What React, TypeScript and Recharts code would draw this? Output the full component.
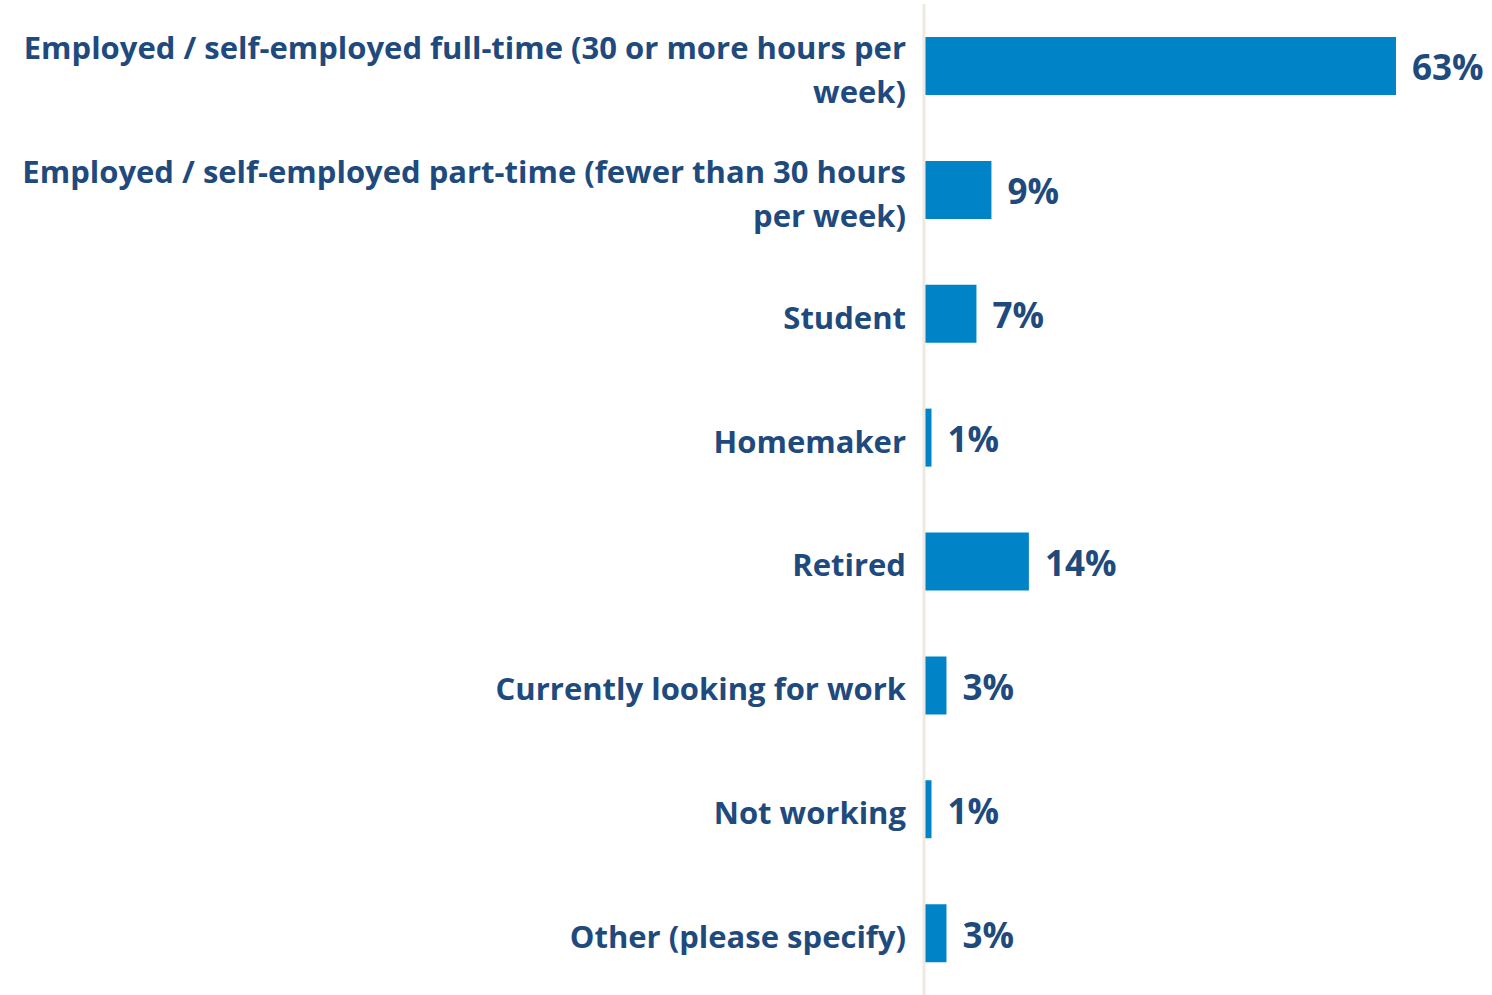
import { BarChart, Bar, XAxis, YAxis, LabelList } from "recharts";

// Employment status, share of respondents (%)
const categories = [
  "Employed / self-employed full-time (30 or more hours per week)",
  "Employed / self-employed part-time (fewer than 30 hours per week)",
  "Student",
  "Homemaker",
  "Retired",
  "Currently looking for work",
  "Not working",
  "Other (please specify)",
];
const shares = [63, 9, 7, 1, 14, 3, 1, 3];

const data = categories.map((name, i) => ({ name, value: shares[i] }));

const TEXT = "#1F4A7E";
const BAR = "#0083C7";
const FONT = "'Open Sans', Lato, sans-serif";

// simple greedy word wrap by character count
const wrap = (s: string, max: number) => {
  const lines: string[] = [];
  let cur = "";
  s.split(" ").forEach((w) => {
    const next = cur ? cur + " " + w : w;
    if (next.length > max && cur) {
      lines.push(cur);
      cur = w;
    } else cur = next;
  });
  if (cur) lines.push(cur);
  return lines;
};

const CategoryTick = (props: any) => {
  const { x, y, payload } = props;
  const lines = wrap(payload.value, 56);
  const lh = 44;
  const top = y - ((lines.length - 1) * lh) / 2 + 3;
  return (
    <text
      x={x}
      y={top}
      textAnchor="end"
      fill={TEXT}
      fontFamily={FONT}
      fontWeight={700}
      fontSize={31}
      dominantBaseline="central"
    >
      {lines.map((l, i) => (
        <tspan key={i} x={x} y={top + i * lh}>
          {l}
        </tspan>
      ))}
    </text>
  );
};

const App = () => {
  return (
    <div style={{ position: "absolute", left: 0, top: 0, background: "#fff" }}>
      <BarChart
        width={1492}
        height={995}
        data={data}
        layout="vertical"
        margin={{ top: 4, right: 96, bottom: 0, left: 0 }}
        barCategoryGap={0}
      >
        <XAxis type="number" domain={[0, 63]} hide />
        <YAxis
          type="category"
          dataKey="name"
          width={924}
          tickLine={false}
          tickSize={0}
          tickMargin={18}
          axisLine={{ stroke: "#EEEAE2", strokeWidth: 3 }}
          tick={<CategoryTick />}
          interval={0}
        />
        <Bar dataKey="value" fill={BAR} barSize={58} isAnimationActive={false}>
          <LabelList
            dataKey="value"
            position="right"
            offset={16}
            dy={2}
            formatter={(v: any) => `${v}%`}
            fill={TEXT}
            fontFamily={FONT}
            fontWeight={700}
            fontSize={35}
          />
        </Bar>
      </BarChart>
    </div>
  );
};

export default App;
